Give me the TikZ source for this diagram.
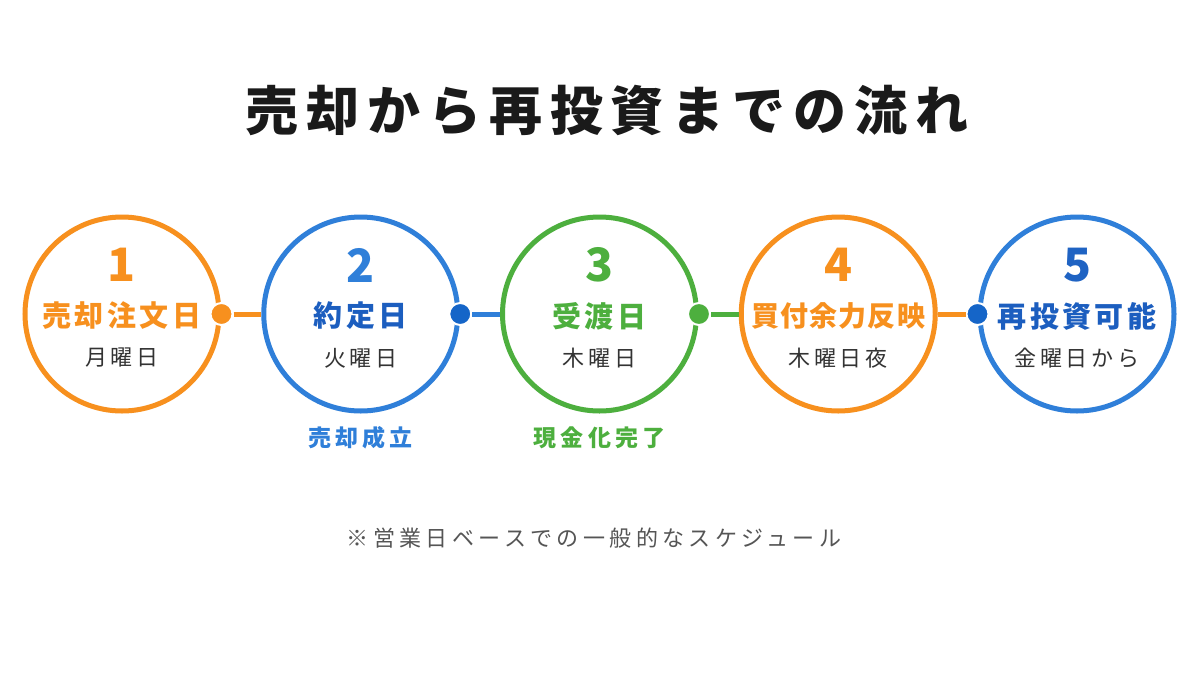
\documentclass[tikz,border=0pt]{standalone}
\usepackage{fontspec}
\setmainfont{Noto Sans CJK JP}
\IfFontExistsTF{Noto Sans CJK JP Black}
  {\newfontfamily\titlefont{Noto Sans CJK JP Black}}
  {\newfontfamily\titlefont{Noto Sans CJK JP}[UprightFont=*, UprightFeatures={FakeBold=1.5}]}
\usetikzlibrary{positioning}

\definecolor{stepOrange}{HTML}{F7901E}
\definecolor{stepBlue}{HTML}{2F7FD9}
\definecolor{stepBlueDark}{HTML}{1C5EBF}
\definecolor{dotBlue}{HTML}{1565C8}
\definecolor{stepGreen}{HTML}{4DAF3E}
\definecolor{titleBlack}{HTML}{1A1A1A}
\definecolor{dayGray}{HTML}{333333}
\definecolor{noteGray}{HTML}{555555}

\begin{document}
\begin{tikzpicture}[
      x=1pt, y=-1pt,
      node distance=39.75pt,
      stage/.style={circle, draw=#1, line width=5pt, minimum size=194pt,
                    fill=white, inner sep=0pt},
      num/.style={font=\fontsize{46}{46}\selectfont\bfseries, text=#1, inner sep=0pt},
      stagename/.style={font=\fontsize{29}{29}\selectfont\bfseries\addfontfeature{LetterSpace=12},
                        text=#1, inner sep=0pt},
      daytext/.style={font=\fontsize{22}{22}\selectfont\addfontfeature{LetterSpace=16},
                      text=dayGray, inner sep=0pt},
      milestone/.style={font=\fontsize{23}{23}\selectfont\bfseries\addfontfeature{LetterSpace=18},
                        text=#1, inner sep=0pt},
      joint/.style={circle, fill=#1, draw=white, line width=2pt, minimum size=22pt, inner sep=0pt},
      link/.style={draw=#1, line width=5pt}
    ]
    \fill[white] (0,0) rectangle (1200,675);
    \useasboundingbox (0,0) rectangle (1200,675);

    \node[font=\titlefont\fontsize{53}{53}\selectfont\addfontfeature{LetterSpace=15},
          text=titleBlack, inner sep=0pt] (title) at (607,110) {売却から再投資までの流れ};

    % steps
    \node[stage=stepOrange] (s1) at (122,314) {};
    \node[stage=stepBlue, right=of s1] (s2) {};
    \node[stage=stepGreen, right=of s2] (s3) {};
    \node[stage=stepOrange, right=of s3] (s4) {};
    \node[stage=stepBlue, right=of s4] (s5) {};

    \node[num=stepOrange] (n1) at ([yshift=49pt]s1.center) {1};
    \node[num=stepBlue] (n2) at ([yshift=49pt]s2.center) {2};
    \node[num=stepGreen] (n3) at ([yshift=49pt]s3.center) {3};
    \node[num=stepOrange] (n4) at ([yshift=49pt]s4.center) {4};
    \node[num=stepBlueDark!85!stepBlue] (n5) at ([yshift=49pt]s5.center) {5};

    \node[stagename=stepOrange] (t1) at ([yshift=-2pt]s1.center) {売却注文日};
    \node[stagename=stepBlueDark] (t2) at ([yshift=-2pt]s2.center) {約定日};
    \node[stagename=stepGreen] (t3) at ([yshift=-2pt]s3.center) {受渡日};
    \node[stagename=stepOrange, font=\fontsize{28}{28}\selectfont\bfseries\addfontfeature{LetterSpace=4}]
      (t4) at ([yshift=-2pt]s4.center) {買付余力反映};
    \node[stagename=stepBlueDark] (t5) at ([yshift=-2pt]s5.center) {再投資可能};

    \node[daytext] (w1) at ([yshift=-44pt]s1.center) {月曜日};
    \node[daytext] (w2) at ([yshift=-44pt]s2.center) {火曜日};
    \node[daytext] (w3) at ([yshift=-44pt]s3.center) {木曜日};
    \node[daytext] (w4) at ([yshift=-44pt]s4.center) {木曜日夜};
    \node[daytext] (w5) at ([yshift=-44pt]s5.center) {金曜日から};

    % joints and links
    \node[joint=stepOrange] (j1) at (s1.east) {};
    \node[joint=dotBlue] (j2) at (s2.east) {};
    \node[joint=stepGreen] (j3) at (s3.east) {};
    \node[joint=dotBlue] (j4) at (s5.west) {};

    \draw[link=stepOrange] (j1) -- (s2);
    \draw[link=stepBlue] (j2) -- (s3);
    \draw[link=stepGreen] (j3) -- (s4);
    \draw[link=stepOrange] (s4) -- (j4);

    \node[milestone=stepBlue] (m2) at ([yshift=-124pt]s2.center) {売却成立};
    \node[milestone=stepGreen] (m3) at ([yshift=-124pt]s3.center) {現金化完了};

    \node[font=\fontsize{22}{22}\selectfont\addfontfeature{LetterSpace=20},
          text=noteGray, inner sep=0pt] (note) at (594,538) {※営業日ベースでの一般的なスケジュール};
  \end{tikzpicture}
\end{document}
